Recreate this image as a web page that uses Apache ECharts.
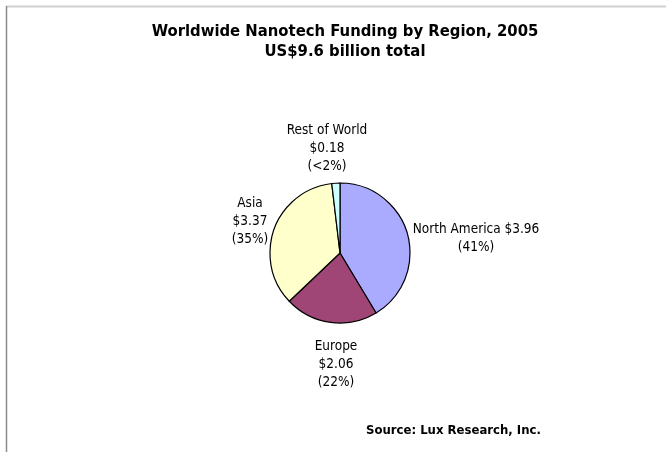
<!DOCTYPE html>
<html>
<head>
<meta charset="utf-8" />
<title>Nanotech Funding</title>
<script src="https://cdn.jsdelivr.net/npm/echarts@6/dist/echarts.min.js"></script>
<style>
  html, body { margin: 0; padding: 0; background: #fff; }
  #main { width: 666px; height: 452px; }
</style>
</head>
<body>
<div id="main"></div>
<script>
    // data (US$ billion)
    var regions = ['North America', 'Europe', 'Asia', 'Rest of World'];
    var funding = [3.96, 2.06, 3.37, 0.18];
    var shares = ['41%', '22%', '35%', '<2%'];
    var colors = ['#aaaaff', '#a04676', '#ffffcc', '#ccffff'];

    // label block centres
    var labelPos = [[476, 238], [336, 364], [250, 221], [327, 148]];

    var myChart = echarts.init(document.getElementById('main'));

    var pieData = regions.map(function (r, i) {
        return { name: r, value: funding[i], itemStyle: { color: colors[i] } };
    });

    var labelFont = '"DejaVu Sans Condensed", sans-serif';

    var option = {
        animation: false,
        backgroundColor: '#fff',
        title: [{
            text: 'Worldwide Nanotech Funding by Region, 2005\nUS$9.6 billion total',
            left: 340,
            textAlign: 'center',
            top: 17,
            textStyle: {
                fontFamily: '"DejaVu Sans Condensed", sans-serif',
                fontWeight: 'bold',
                fontSize: 16.5,
                lineHeight: 20,
                color: '#000'
            }
        }, {
            text: 'Source: Lux Research, Inc.',
            left: 361,
            top: 419,
            textStyle: {
                fontFamily: '"DejaVu Sans Condensed", sans-serif',
                fontWeight: 'bold',
                fontSize: 13,
                color: '#000'
            }
        }],
        graphic: [{
            type: 'line',
            shape: { x1: 6, y1: 6.5, x2: 666, y2: 6.5 },
            style: { stroke: '#d0d0d0', lineWidth: 2 }
        }, {
            type: 'line',
            shape: { x1: 6.5, y1: 6, x2: 6.5, y2: 452 },
            style: { stroke: '#8c8c8c', lineWidth: 1.5 }
        }],
        series: [{
            type: 'pie',
            center: [340, 253],
            radius: 70,
            startAngle: 90,
            clockwise: true,
            data: pieData,
            itemStyle: { borderColor: '#000', borderWidth: 1.2 },
            label: {
                show: true,
                position: 'outside',
                fontFamily: labelFont,
                fontSize: 13.5,
                lineHeight: 18,
                color: '#000',
                align: 'center',
                formatter: function (p) {
                    var i = p.dataIndex;
                    if (i === 0) {
                        return p.name + ' $' + funding[i].toFixed(2) + '\n(' + shares[i] + ')';
                    }
                    return p.name + '\n$' + funding[i].toFixed(2) + '\n(' + shares[i] + ')';
                }
            },
            labelLine: { show: false },
            labelLayout: function (params) {
                var pos = labelPos[params.dataIndex];
                return { x: pos[0], y: pos[1], align: 'center', verticalAlign: 'middle' };
            },
            emphasis: { disabled: true }
        }]
    };

    myChart.setOption(option);
</script>
</body>
</html>
